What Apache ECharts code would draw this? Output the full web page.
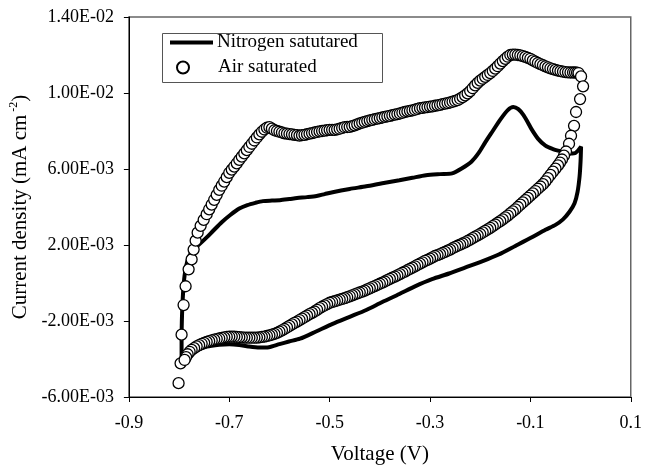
<!DOCTYPE html>
<html>
<head>
<meta charset="utf-8">
<script src="https://cdn.jsdelivr.net/npm/echarts@6/dist/echarts.min.js"></script>
<style>
html,body{margin:0;padding:0;background:#fff;}
#chart{width:645px;height:470px;}
</style>
</head>
<body>
<div id="chart"></div>
<script>
// All pairs: [voltage (V), current density (x1e-3 mA cm^-2)]

// Nitrogen saturated CV loop
const n2Anodic = [[-0.795,-4.20],[-0.795,-3.00],[-0.794,-1.60],[-0.792,-0.50],[-0.789,0.40],[-0.784,1.10],[-0.777,1.55],[-0.768,1.85],[-0.757,2.10],[-0.745,2.40],[-0.732,2.75],[-0.715,3.20],[-0.698,3.58],[-0.680,3.92],[-0.664,4.10],[-0.648,4.22],[-0.633,4.31],[-0.615,4.34],[-0.599,4.36],[-0.580,4.42],[-0.565,4.47],[-0.545,4.52],[-0.526,4.58],[-0.510,4.68],[-0.494,4.78],[-0.460,4.95],[-0.427,5.09],[-0.395,5.25],[-0.361,5.41],[-0.335,5.54],[-0.308,5.67],[-0.280,5.73],[-0.256,5.77],[-0.237,6.03],[-0.217,6.40],[-0.203,6.85],[-0.190,7.40],[-0.175,8.00],[-0.160,8.60],[-0.145,9.10],[-0.134,9.26],[-0.124,9.15],[-0.114,8.85],[-0.105,8.45],[-0.098,8.11],[-0.085,7.60],[-0.070,7.23],[-0.055,7.05],[-0.045,6.97],[-0.030,6.88],[-0.021,6.81],[-0.010,6.85],[0.001,7.18]];
const n2Cathodic = [[0.000,6.40],[-0.002,5.60],[-0.006,4.80],[-0.012,4.20],[-0.022,3.75],[-0.035,3.35],[-0.050,3.06],[-0.070,2.80],[-0.098,2.39],[-0.130,1.95],[-0.163,1.50],[-0.195,1.15],[-0.229,0.82],[-0.262,0.50],[-0.296,0.20],[-0.330,-0.18],[-0.361,-0.58],[-0.395,-1.00],[-0.427,-1.42],[-0.460,-1.78],[-0.494,-2.15],[-0.527,-2.55],[-0.559,-2.93],[-0.581,-3.08],[-0.600,-3.22],[-0.621,-3.38],[-0.640,-3.40],[-0.662,-3.34],[-0.680,-3.26],[-0.700,-3.22],[-0.720,-3.25],[-0.745,-3.35],[-0.765,-3.55],[-0.780,-3.80],[-0.790,-4.05],[-0.795,-4.20]];

// Air saturated CV loop
const airRise = [[-0.801,-5.27],[-0.797,-4.23],[-0.795,-2.72],[-0.791,-1.16],[-0.787,-0.17],[-0.781,0.72],[-0.775,1.24],[-0.771,1.76],[-0.767,2.23],[-0.763,2.65],[-0.757,3.01],[-0.751,3.32]];
const airAnodic = [[-0.745,3.62],[-0.740,3.88],[-0.735,4.13],[-0.730,4.38],[-0.725,4.64],[-0.720,4.90],[-0.715,5.12],[-0.710,5.34],[-0.705,5.57],[-0.700,5.80],[-0.695,5.97],[-0.690,6.13],[-0.685,6.30],[-0.680,6.48],[-0.675,6.65],[-0.670,6.82],[-0.665,6.99],[-0.660,7.16],[-0.655,7.33],[-0.650,7.50],[-0.645,7.66],[-0.640,7.82],[-0.635,7.96],[-0.630,8.08],[-0.625,8.17],[-0.620,8.20],[-0.615,8.12],[-0.610,8.04],[-0.605,8.00],[-0.600,7.96],[-0.595,7.92],[-0.590,7.88],[-0.585,7.86],[-0.580,7.84],[-0.575,7.82],[-0.570,7.80],[-0.565,7.78],[-0.560,7.76],[-0.555,7.78],[-0.550,7.80],[-0.545,7.83],[-0.540,7.86],[-0.535,7.89],[-0.530,7.92],[-0.525,7.95],[-0.520,7.98],[-0.515,8.00],[-0.510,8.02],[-0.505,8.04],[-0.500,8.06],[-0.495,8.06],[-0.490,8.06],[-0.485,8.09],[-0.480,8.12],[-0.475,8.16],[-0.470,8.20],[-0.465,8.21],[-0.460,8.22],[-0.455,8.26],[-0.450,8.30],[-0.445,8.35],[-0.440,8.40],[-0.435,8.44],[-0.430,8.48],[-0.425,8.52],[-0.420,8.56],[-0.415,8.59],[-0.410,8.62],[-0.405,8.65],[-0.400,8.68],[-0.395,8.71],[-0.390,8.74],[-0.385,8.77],[-0.380,8.80],[-0.375,8.83],[-0.370,8.86],[-0.365,8.89],[-0.360,8.92],[-0.355,8.96],[-0.350,9.00],[-0.345,9.03],[-0.340,9.06],[-0.335,9.09],[-0.330,9.12],[-0.325,9.16],[-0.320,9.20],[-0.315,9.22],[-0.310,9.24],[-0.305,9.26],[-0.300,9.28],[-0.295,9.30],[-0.290,9.33],[-0.285,9.35],[-0.280,9.38],[-0.275,9.41],[-0.270,9.44],[-0.265,9.47],[-0.260,9.50],[-0.255,9.54],[-0.250,9.58],[-0.245,9.63],[-0.240,9.70],[-0.235,9.78],[-0.230,9.88],[-0.225,9.98],[-0.220,10.10],[-0.215,10.25],[-0.210,10.40],[-0.205,10.53],[-0.200,10.65],[-0.195,10.75],[-0.190,10.85],[-0.185,10.95],[-0.180,11.05],[-0.175,11.16],[-0.170,11.28],[-0.165,11.41],[-0.160,11.55],[-0.155,11.68],[-0.150,11.80],[-0.145,11.91],[-0.140,12.00],[-0.135,12.02],[-0.130,12.02],[-0.125,12.00],[-0.120,11.98],[-0.115,11.94],[-0.110,11.90],[-0.105,11.85],[-0.100,11.80],[-0.095,11.72],[-0.090,11.65],[-0.085,11.58],[-0.080,11.52],[-0.075,11.46],[-0.070,11.40],[-0.065,11.35],[-0.060,11.30],[-0.055,11.26],[-0.050,11.22],[-0.045,11.18],[-0.040,11.15],[-0.035,11.12],[-0.030,11.10],[-0.025,11.09],[-0.020,11.08],[-0.015,11.08],[-0.011,11.08],[-0.007,11.07],[-0.004,11.05]];
const airTurn = [[0.001,10.87],[0.005,10.35],[-0.001,9.68],[-0.009,9.00],[-0.013,8.27],[-0.019,7.75],[-0.023,7.33],[-0.029,6.92]];
const airCathodic = [[-0.033,6.70],[-0.037,6.50],[-0.041,6.34],[-0.045,6.19],[-0.050,6.02],[-0.055,5.86],[-0.060,5.69],[-0.065,5.52],[-0.070,5.35],[-0.075,5.20],[-0.080,5.08],[-0.085,4.96],[-0.090,4.84],[-0.095,4.72],[-0.100,4.60],[-0.105,4.48],[-0.110,4.36],[-0.115,4.24],[-0.120,4.12],[-0.125,4.00],[-0.130,3.88],[-0.135,3.77],[-0.140,3.66],[-0.145,3.55],[-0.150,3.45],[-0.155,3.35],[-0.160,3.26],[-0.165,3.17],[-0.170,3.08],[-0.175,2.99],[-0.180,2.90],[-0.185,2.82],[-0.190,2.74],[-0.195,2.66],[-0.200,2.58],[-0.205,2.51],[-0.210,2.44],[-0.215,2.36],[-0.220,2.28],[-0.225,2.21],[-0.230,2.14],[-0.235,2.08],[-0.240,2.02],[-0.245,1.96],[-0.250,1.90],[-0.255,1.83],[-0.260,1.76],[-0.265,1.70],[-0.270,1.64],[-0.275,1.58],[-0.280,1.52],[-0.285,1.47],[-0.290,1.42],[-0.295,1.35],[-0.300,1.28],[-0.305,1.22],[-0.310,1.16],[-0.315,1.09],[-0.320,1.02],[-0.325,0.95],[-0.330,0.88],[-0.335,0.81],[-0.340,0.74],[-0.345,0.67],[-0.350,0.60],[-0.355,0.54],[-0.360,0.47],[-0.365,0.40],[-0.370,0.34],[-0.375,0.28],[-0.380,0.22],[-0.385,0.15],[-0.390,0.08],[-0.395,0.02],[-0.400,-0.04],[-0.405,-0.10],[-0.410,-0.16],[-0.415,-0.22],[-0.420,-0.28],[-0.425,-0.34],[-0.430,-0.40],[-0.435,-0.45],[-0.440,-0.50],[-0.445,-0.55],[-0.450,-0.60],[-0.455,-0.65],[-0.460,-0.70],[-0.465,-0.75],[-0.470,-0.80],[-0.475,-0.84],[-0.480,-0.88],[-0.485,-0.92],[-0.490,-0.96],[-0.495,-1.00],[-0.500,-1.04],[-0.505,-1.11],[-0.510,-1.18],[-0.515,-1.25],[-0.520,-1.32],[-0.525,-1.41],[-0.530,-1.50],[-0.535,-1.57],[-0.540,-1.64],[-0.545,-1.72],[-0.550,-1.80],[-0.555,-1.88],[-0.560,-1.95],[-0.565,-2.03],[-0.570,-2.10],[-0.575,-2.18],[-0.580,-2.26],[-0.585,-2.34],[-0.590,-2.42],[-0.595,-2.49],[-0.600,-2.56],[-0.605,-2.62],[-0.610,-2.68],[-0.615,-2.72],[-0.620,-2.76],[-0.625,-2.79],[-0.630,-2.82],[-0.635,-2.84],[-0.640,-2.86],[-0.645,-2.87],[-0.650,-2.88],[-0.655,-2.88],[-0.660,-2.88],[-0.665,-2.88],[-0.670,-2.87],[-0.675,-2.86],[-0.680,-2.85],[-0.685,-2.84],[-0.690,-2.83],[-0.695,-2.82],[-0.700,-2.83],[-0.705,-2.84],[-0.710,-2.86],[-0.715,-2.89],[-0.720,-2.92],[-0.725,-2.95],[-0.730,-2.98],[-0.735,-3.02],[-0.740,-3.06],[-0.745,-3.10],[-0.750,-3.15],[-0.755,-3.20],[-0.760,-3.27],[-0.765,-3.34],[-0.770,-3.43],[-0.775,-3.52],[-0.779,-3.62],[-0.783,-3.75],[-0.786,-3.90],[-0.789,-4.05]];

const seriesNames = ['Nitrogen satutared', 'Air saturated'];
const xTitle = 'Voltage (V)';

const FONT = 'Liberation Serif, Times New Roman, serif';
const toData = (...parts) => [].concat(...parts).map(p => [p[0], p[1] * 1e-3]);

function sci(v) {
  if (Math.abs(v) < 1e-12) return '0.00E+00';
  let e = Math.floor(Math.log10(Math.abs(v)));
  let m = (v / Math.pow(10, e)).toFixed(2);
  if (Math.abs(parseFloat(m)) >= 10) { e += 1; m = (v / Math.pow(10, e)).toFixed(2); }
  return m + 'E' + (e < 0 ? '-' : '+') + String(Math.abs(e)).padStart(2, '0');
}

const chart = echarts.init(document.getElementById('chart'), null, {renderer: 'canvas'});
chart.setOption({
  animation: false,
  backgroundColor: '#fff',
  grid: {left: 128, right: 11, top: 17, bottom: 69, show: true, borderColor: '#666', borderWidth: 1.5},
  xAxis: {
    type: 'value', min: -0.9, max: 0.1, interval: 0.2,
    axisLine: {onZero: false, lineStyle: {color: '#000', width: 1}},
    axisTick: {show: true, length: 5, lineStyle: {color: '#000'}},
    splitLine: {show: false},
    axisLabel: {formatter: v => v.toFixed(1), fontFamily: FONT, fontSize: 18, color: '#000', margin: 17},
    name: xTitle, nameLocation: 'middle', nameGap: 47,
    nameTextStyle: {fontFamily: FONT, fontSize: 21, color: '#000'}
  },
  yAxis: {
    type: 'value', min: -0.006, max: 0.014, interval: 0.004,
    axisLine: {show: true, onZero: false, lineStyle: {color: '#000', width: 1}},
    axisTick: {show: true, length: 5, lineStyle: {color: '#000'}},
    splitLine: {show: false},
    axisLabel: {formatter: sci, fontFamily: FONT, fontSize: 18, color: '#000', margin: 15},
    name: '{t|Current density (mA cm}{s| -2}{t|)}', nameLocation: 'middle', nameGap: 90, nameRotate: 90,
    nameTextStyle: {
      rich: {
        t: {fontFamily: FONT, fontSize: 21, color: '#000', lineHeight: 24},
        s: {fontFamily: FONT, fontSize: 12, color: '#000', verticalAlign: 'top'}
      }
    }
  },
  legend: [
    {data: [{name: seriesNames[0], icon: 'rect'}], left: 170, top: 33, padding: 0, itemWidth: 43, itemHeight: 4,
     itemStyle: {color: '#000', borderWidth: 0},
     textStyle: {fontFamily: FONT, fontSize: 19, color: '#000', padding: [0, 0, 0, -1]}},
    {data: [seriesNames[1]], left: 176, top: 58, padding: 0, itemWidth: 12, itemHeight: 12,
     formatter: n => '{p|' + n + '}',
     textStyle: {fontFamily: FONT, fontSize: 19, color: '#000', rich: {p: {fontFamily: FONT, fontSize: 19, color: '#000', padding: [0, 0, 0, 24]}}}}
  ],
  graphic: [
    {type: 'rect', left: 160, top: 31, silent: true, shape: {width: 220, height: 49},
     style: {fill: 'none', stroke: '#555', lineWidth: 1}}
  ],
  series: [
    {
      name: seriesNames[0], type: 'line', data: toData(n2Anodic, n2Cathodic),
      symbol: 'none', smooth: 0.25, lineStyle: {color: '#000', width: 4}, itemStyle: {color: '#000'},
      z: 2
    },
    {
      name: seriesNames[1], type: 'scatter', data: toData(airRise, airAnodic, airTurn, airCathodic),
      symbol: 'circle', symbolSize: 11,
      itemStyle: {color: '#fff', borderColor: '#000', borderWidth: 1.3, opacity: 1},
      z: 3
    }
  ]
});
</script>
</body>
</html>
